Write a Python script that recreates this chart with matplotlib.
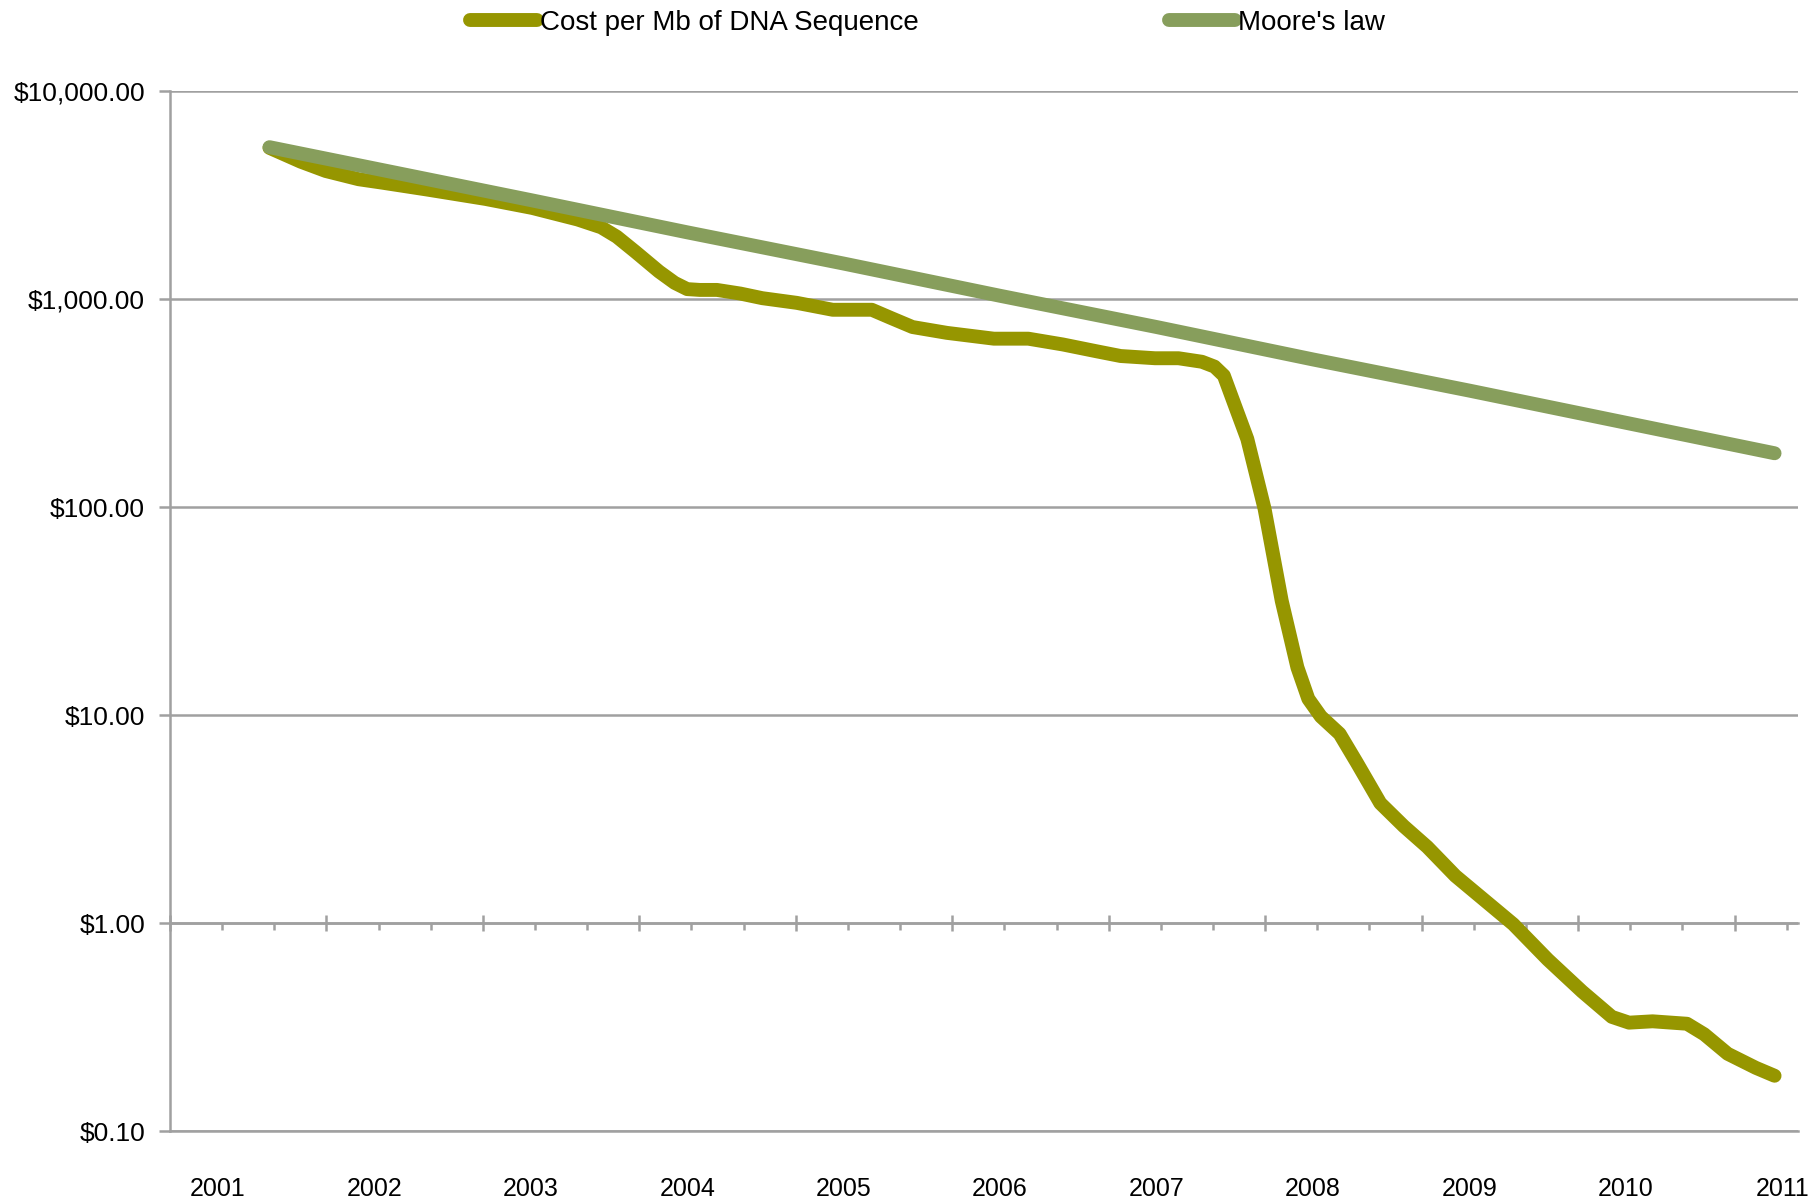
import matplotlib.pyplot as plt
from matplotlib.ticker import FixedLocator, NullFormatter

plt.rcParams['font.family'] = ['Liberation Sans', 'DejaVu Sans']

# cost per Mb of DNA sequence, x in year units
cost_x = [2001.33, 2001.53, 2001.69, 2001.90, 2002.05, 2002.34, 2002.71, 2003.01,
          2003.30, 2003.45, 2003.55, 2003.67, 2003.82, 2003.92, 2004.00, 2004.08,
          2004.19, 2004.34, 2004.48, 2004.70, 2004.93, 2005.07, 2005.18, 2005.30,
          2005.44, 2005.66, 2005.96, 2006.18, 2006.40, 2006.62, 2006.77, 2006.99,
          2007.14, 2007.29, 2007.37, 2007.43, 2007.48, 2007.58, 2007.69, 2007.80,
          2007.90, 2007.97, 2008.05, 2008.17, 2008.28, 2008.43, 2008.58, 2008.73,
          2008.91, 2009.13, 2009.28, 2009.50, 2009.72, 2009.91, 2010.02, 2010.17,
          2010.39, 2010.50, 2010.65, 2010.83, 2010.95]
cost_y = [5350, 4590, 4140, 3780, 3640, 3370, 3040, 2750,
          2420, 2220, 2000, 1690, 1360, 1200, 1120, 1110,
          1110, 1066, 1013, 962, 891, 891, 891, 815,
          736, 690, 647, 647, 607, 562, 534, 521,
          521, 501, 475, 430, 340, 213, 98.6, 35.5,
          17.0, 12.0, 9.87, 8.15, 5.92, 3.78, 2.93, 2.33,
          1.69, 1.23, 0.99, 0.67, 0.47, 0.355, 0.333, 0.338,
          0.329, 0.293, 0.236, 0.202, 0.185]

# Moore's law reference line
moore_x = [2001.33, 2003.0, 2004.0, 2005.0, 2006.0, 2007.0, 2008.0, 2009.0, 2010.0, 2010.95]
moore_y = [5390, 3000, 2100, 1486, 1040, 736, 514, 364, 255, 182]

years = list(range(2001, 2012))
ytick_vals = [0.1, 1, 10, 100, 1000, 10000]
ytick_labels = ['$0.10', '$1.00', '$10.00', '$100.00', '$1,000.00', '$10,000.00']

grey = '#a0a0a0'

fig = plt.figure(figsize=(18.12, 12.02), dpi=100)
ax = fig.add_axes([0.0938, 0.0588, 0.8985, 0.8652])

ax.plot(cost_x, cost_y, color='#969600', lw=10, solid_capstyle='round',
        solid_joinstyle='round', label='Cost per Mb of DNA Sequence', zorder=3)
ax.plot(moore_x, moore_y, color='#879e5c', lw=10, solid_capstyle='round',
        label="Moore's law", zorder=4)

ax.set_yscale('log')
ax.set_ylim(0.1, 10000)
ax.set_xlim(2000.694, 2011.1)

ax.set_yticks(ytick_vals)
ax.set_yticklabels(ytick_labels)
ax.yaxis.set_minor_locator(FixedLocator([]))
ax.yaxis.grid(True, color=grey, lw=1.8)
ax.axhline(0.1, color=grey, lw=1.8, clip_on=False)
ax.tick_params(axis='y', which='major', length=8, width=1.8, color=grey,
               labelsize=19, pad=10, direction='out')

# x axis crosses at $1.00 with its tick marks
ax.spines['bottom'].set_position(('data', 1.0))
ax.spines['bottom'].set_color(grey)
ax.spines['bottom'].set_linewidth(1.8)
major = [2000.694 + k for k in range(11)]
minor = [2000.694 + k / 3 for k in range(32) if k % 3 != 0]
ax.xaxis.set_major_locator(FixedLocator(major))
ax.xaxis.set_minor_locator(FixedLocator(minor))
ax.xaxis.set_major_formatter(NullFormatter())
ax.tick_params(axis='x', which='major', direction='inout', length=12, width=1.8, color=grey)
ax.tick_params(axis='x', which='minor', direction='out', length=5, width=1.8, color=grey)

for s in ['top', 'right']:
    ax.spines[s].set_visible(False)
ax.spines['left'].set_color(grey)
ax.spines['left'].set_linewidth(1.8)

# year labels below the plot
sec = ax.secondary_xaxis(0)
sec.set_xticks(years)
sec.set_xticklabels([str(y) for y in years])
sec.tick_params(length=0, labelsize=18, pad=33)
sec.spines['bottom'].set_visible(False)

fig.legend(loc='center', bbox_to_anchor=(0.512, 0.981), ncol=2, frameon=False,
           fontsize=20, handlelength=2.4, handletextpad=0.1, columnspacing=9.0)

fig.savefig('out.png', dpi=100)
